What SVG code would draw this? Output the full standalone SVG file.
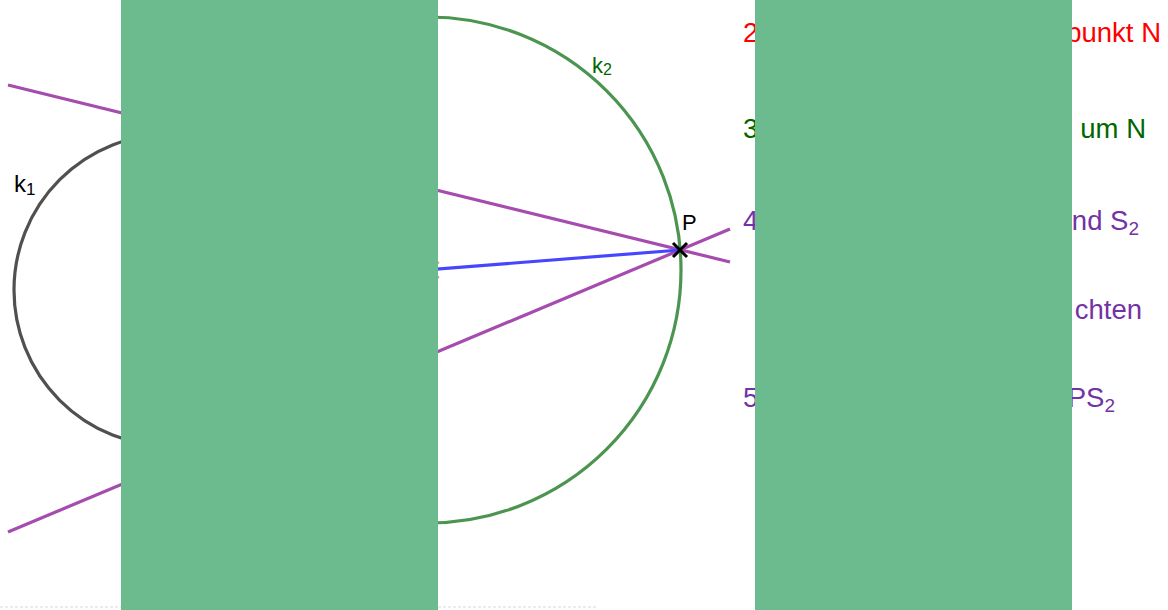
<svg xmlns="http://www.w3.org/2000/svg" width="1168" height="610" viewBox="0 0 1168 610">
<style>
.txt{font-family:"Liberation Sans",Arial,sans-serif;}
.big{font-size:27.5px;}
.red{fill:#FF0000;}
.dg{fill:#006600;}
.pu{fill:#7332A5;}
.tan{stroke:#A54CAE;stroke-width:3.2;fill:none;}
.cover{fill:#6BBB8E;}
</style>
<rect width="1168" height="610" fill="#FFFFFF"/>
<g id="faint">
<line x1="0" y1="607" x2="121" y2="607" stroke="#E6E6E6" stroke-width="1.5" stroke-dasharray="3 2"/>
<line x1="438" y1="607" x2="596" y2="607" stroke="#E6E6E6" stroke-width="1.5" stroke-dasharray="3 2"/>
</g>
<g id="k1">
<circle cx="170" cy="290" r="156" fill="none" stroke="#505050" stroke-width="3.2"/>
<text class="txt" x="14" y="192" font-size="24" fill="#000">k<tspan font-size="17" dy="3">1</tspan></text>
</g>
<g id="k2">
<circle cx="428" cy="270" r="253" fill="none" stroke="#4C9550" stroke-width="3.2"/>
<text class="txt" x="592" y="73" font-size="22" fill="#006600">k<tspan font-size="16" dy="2">2</tspan></text>
</g>
<g id="connectors">
<line class="tan" x1="8" y1="85" x2="730" y2="262"/>
<line class="tan" x1="8" y1="532" x2="730" y2="229"/>
<line x1="170" y1="290" x2="680" y2="250" stroke="#4646FF" stroke-width="3.2"/>
</g>
<g id="N">
<path d="M423,262 L439,278 M423,278 L439,262" stroke="#E05050" stroke-width="2" opacity="0.6"/>
</g>
<g id="P">
<path d="M673,243 L687,257 M673,257 L687,243" stroke="#000" stroke-width="3"/>
<text class="txt" x="682" y="230" font-size="22" fill="#000">P</text>
</g>
<g id="steps">
<text class="txt big red" x="743" y="42">2</text>
<text class="txt big red" x="1161" y="42" text-anchor="end">punkt N</text>
<text class="txt big dg" x="743" y="138">3</text>
<text class="txt big dg" x="1146" y="138" text-anchor="end">um N</text>
<text class="txt big pu" x="743" y="230">4</text>
<text class="txt big pu" x="1139" y="230" text-anchor="end">nd S<tspan font-size="19" dy="5">2</tspan></text>
<text class="txt big pu" x="1142" y="319" text-anchor="end">chten</text>
<text class="txt big pu" x="743" y="407">5</text>
<text class="txt big pu" x="1115" y="407" text-anchor="end">PS<tspan font-size="19" dy="5">2</tspan></text>
</g>
<g id="covers">
<rect class="cover" x="121" y="0" width="317" height="610"/>
<rect class="cover" x="755" y="0" width="317" height="610"/>
</g>
</svg>
